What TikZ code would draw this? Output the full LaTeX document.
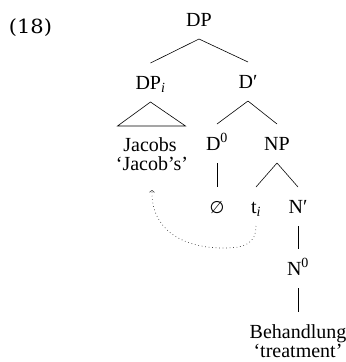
\documentclass[tikz,border=0pt]{standalone}
\usepackage{fontspec}
\setmainfont{Liberation Serif}
\newfontfamily\exfont{DejaVu Serif}
\newfontfamily\symfont{DejaVu Sans}
\usetikzlibrary{arrows.meta}
\tikzset{
  lbl/.style={anchor=base, inner sep=0pt, outer xsep=0pt, outer ysep=13bp,
    text height=13bp, text depth=0pt, font=\fontsize{20bp}{24bp}\selectfont},
  branch/.style={line width=0.6bp},
  trace/.style={line width=0.7bp, dash pattern=on 0.7bp off 2.8bp, black!75,
    -{Straight Barb[length=2bp,width=5bp,line width=0.6bp]}},
}
\begin{document}
\begin{tikzpicture}[x=1bp,y=-1bp]
\useasboundingbox (0,0) rectangle (346,362);
\node[anchor=base, inner sep=0pt, xscale=1.08, font=\exfont\fontsize{19.5bp}{23bp}\selectfont] (ex) at (30.5,33) {(18)};
\node[lbl] (dp) at (199,26) {DP};
\node[lbl] (dpi) at (150.5,89) {DP\textsubscript{\textit{i}}};
\node[lbl] (dbar) at (248,88) {D′};
\node[lbl] (d0) at (217,150) {D\textsuperscript{0}};
\node[lbl] (np) at (277,150) {NP};
\node[lbl] (jac) at (150,151) {Jacobs};
\node[lbl] (jacg) at (152,170) {‘Jacob’s’};
\node[lbl] (empty) at (217,213) {\symfont\fontsize{17bp}{20bp}\selectfont ∅};
\node[lbl] (ti) at (256,213) {t\textsubscript{\textit{i}}};
\node[lbl] (nbar) at (298,213) {N′};
\node[lbl] (n0) at (298,275) {N\textsuperscript{0}};
\node[lbl] (beh) at (298,338) {Behandlung};
\node[lbl] (tr) at (298,357) {‘treatment’};
\draw[branch] (dp.south) -- (dpi.north);
\draw[branch] (dp.south) -- (dbar.north);
\draw[branch] (dpi.south) -- ++(-33,24) -- ++(68,0) -- cycle;
\draw[branch] (dbar.south) -- (d0.north);
\draw[branch] (dbar.south) -- (np.north);
\draw[branch] (d0.south) -- (empty.north);
\draw[branch] (np.south) -- (ti.north);
\draw[branch] (np.south) -- (nbar.north);
\draw[branch] (nbar.south) -- (n0.north);
\draw[branch] (n0.south) -- (beh.north);
\draw[trace] (ti.south) .. controls (256,244) and (244,248) .. (224,248)
  .. controls (180,248) and (151,228) .. ([yshift=-7bp]jacg.south);
\end{tikzpicture}
\end{document}
